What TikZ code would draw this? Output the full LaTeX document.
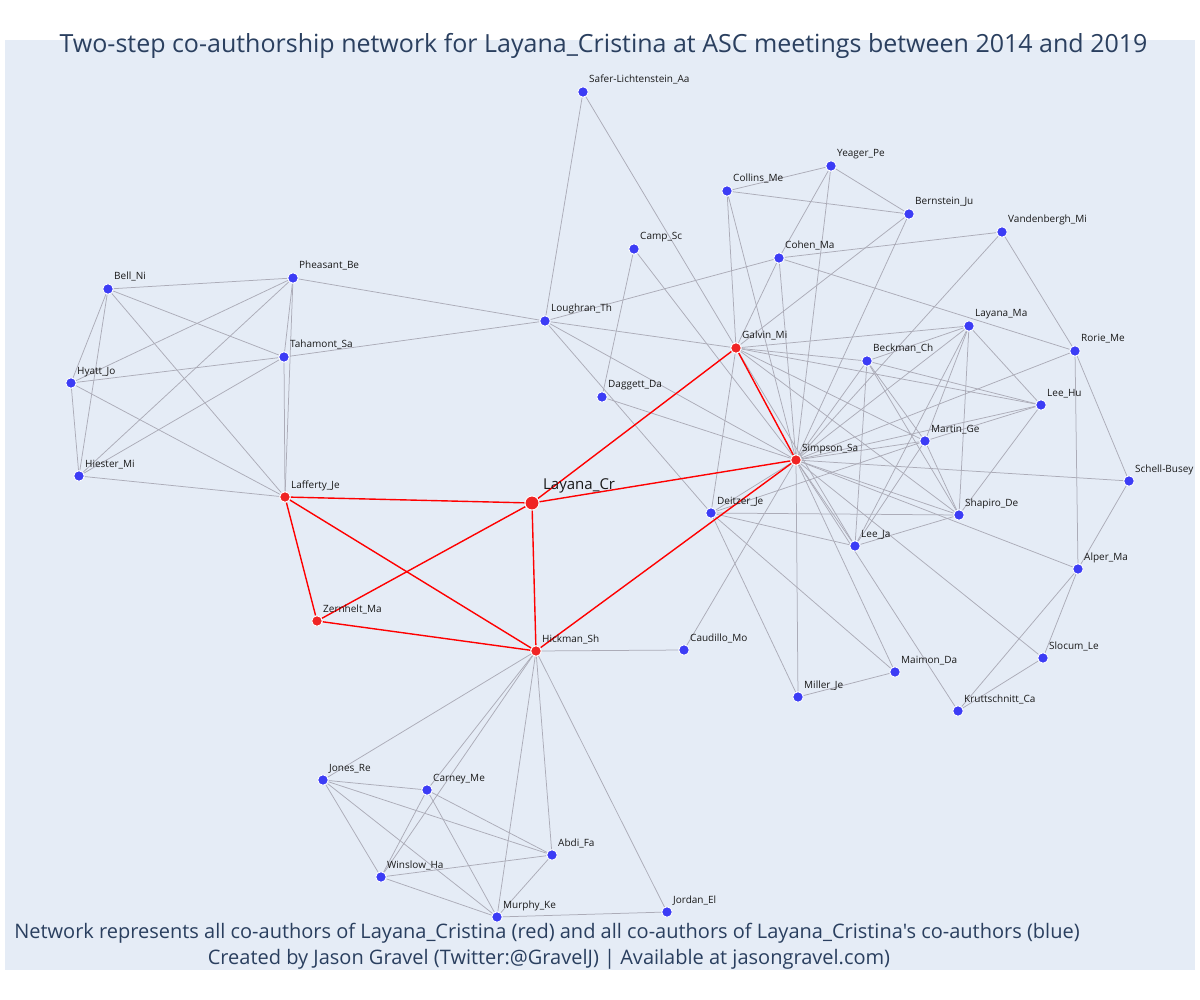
\documentclass[tikz,border=0pt]{standalone}
\usepackage{fontspec}
\setmainfont{Open Sans}[Ligatures=TeXOff]
\pgfdeclarelayer{bg}
\pgfdeclarelayer{edges}
\pgfsetlayers{bg,edges,main}
\definecolor{plotbg}{HTML}{E5ECF6}
\definecolor{titlec}{HTML}{2A3F5F}
\definecolor{bluen}{RGB}{60,60,245}
\definecolor{redn}{RGB}{240,36,36}
\definecolor{edgec}{RGB}{172,172,184}
\tikzset{
  bnode/.style={circle, fill=bluen, draw=white, line width=0.9pt, minimum size=10.5pt, inner sep=0pt},
  rnode/.style={circle, fill=redn, draw=white, line width=0.9pt, minimum size=10.5pt, inner sep=0pt},
  bignode/.style={circle, fill=redn, draw=white, line width=0.9pt, minimum size=14pt, inner sep=0pt},
  lbl/.style={anchor=base west, inner sep=0pt, font=\fontsize{10}{12}\selectfont, text=black!90},
  biglbl/.style={anchor=base west, inner sep=0pt, font=\fontsize{15}{18}\selectfont, text=black!90},
  gedge/.style={draw=edgec, line width=0.75pt},
  redge/.style={draw=red, line width=1.4pt},
  titletext/.style={font=\fontsize{25}{30}\selectfont, text=titlec, inner sep=0pt, anchor=base},
  foottext/.style={font=\fontsize{20}{24}\selectfont, text=titlec, inner sep=0pt, anchor=base}
}
\newcommand\bn[4]{\node[bnode] (#1) at (#2,#3) {}; \node[lbl] (#1-t) at (#2+6,#3-9) {#4};}
\newcommand\rn[4]{\node[rnode] (#1) at (#2,#3) {}; \node[lbl] (#1-t) at (#2+6,#3-9) {#4};}
\begin{document}
\begin{tikzpicture}[x=1pt,y=-1pt]
\useasboundingbox (0,0) rectangle (1200,1000);
\begin{pgfonlayer}{bg}
\fill[white] (0,0) rectangle (1200,1000);
\fill[plotbg] (5,40) rectangle (1195,970);
\end{pgfonlayer}

% nodes
\bn{safer}{583}{92}{Safer-Lichtenstein\_Aa}
\bn{yeager}{831}{166}{Yeager\_Pe}
\bn{collins}{727}{191}{Collins\_Me}
\bn{bernstein}{909}{214}{Bernstein\_Ju}
\bn{vandenbergh}{1002}{232}{Vandenbergh\_Mi}
\bn{camp}{634}{249}{Camp\_Sc}
\bn{cohen}{779}{258}{Cohen\_Ma}
\bn{pheasant}{293}{278}{Pheasant\_Be}
\bn{bell}{108}{289}{Bell\_Ni}
\bn{loughran}{545}{321}{Loughran\_Th}
\bn{layanama}{969}{326}{Layana\_Ma}
\rn{galvin}{736}{348}{Galvin\_Mi}
\bn{rorie}{1075}{351}{Rorie\_Me}
\bn{tahamont}{284}{357}{Tahamont\_Sa}
\bn{beckman}{867}{361}{Beckman\_Ch}
\bn{hyatt}{71}{383}{Hyatt\_Jo}
\bn{daggett}{602}{397}{Daggett\_Da}
\bn{leehu}{1041}{405}{Lee\_Hu}
\bn{martin}{925}{441}{Martin\_Ge}
\rn{simpson}{796}{460}{Simpson\_Sa}
\bn{hiester}{79}{476}{Hiester\_Mi}
\bn{schell}{1129}{481}{Schell-Busey}
\rn{lafferty}{285}{497}{Lafferty\_Je}
\node[bignode] (layanacr) at (532,503) {};
\node[biglbl] (layanacr-t) at (543,489) {Layana\_Cr};
\bn{deitzer}{711}{513}{Deitzer\_Je}
\bn{shapiro}{959}{515}{Shapiro\_De}
\bn{leeja}{855}{546}{Lee\_Ja}
\bn{alper}{1078}{569}{Alper\_Ma}
\rn{zernhelt}{317}{621}{Zernhelt\_Ma}
\rn{hickman}{536}{651}{Hickman\_Sh}
\bn{caudillo}{684}{650}{Caudillo\_Mo}
\bn{slocum}{1043}{658}{Slocum\_Le}
\bn{maimon}{895}{672}{Maimon\_Da}
\bn{miller}{798}{697}{Miller\_Je}
\bn{kruttschnitt}{958}{711}{Kruttschnitt\_Ca}
\bn{jones}{323}{780}{Jones\_Re}
\bn{carney}{427}{790}{Carney\_Me}
\bn{abdi}{552}{855}{Abdi\_Fa}
\bn{winslow}{381}{877}{Winslow\_Ha}
\bn{murphy}{497}{917}{Murphy\_Ke}
\bn{jordan}{667}{912}{Jordan\_El}

\begin{pgfonlayer}{edges}
\foreach \a/\b in {
  bell/hyatt, bell/hiester, bell/pheasant, bell/tahamont, bell/lafferty,
  hyatt/hiester, hyatt/pheasant, hyatt/tahamont, hyatt/lafferty,
  hiester/pheasant, hiester/tahamont, hiester/lafferty,
  pheasant/tahamont, pheasant/lafferty, tahamont/lafferty,
  pheasant/loughran, tahamont/loughran,
  loughran/safer, loughran/cohen, loughran/galvin, loughran/deitzer, loughran/simpson,
  safer/galvin,
  camp/daggett, camp/simpson, daggett/simpson,
  collins/yeager, collins/bernstein, collins/galvin, collins/simpson,
  yeager/bernstein, yeager/cohen, yeager/simpson,
  bernstein/galvin, bernstein/simpson,
  cohen/vandenbergh, cohen/galvin, cohen/simpson, cohen/rorie,
  vandenbergh/simpson, vandenbergh/rorie,
  rorie/simpson, rorie/alper, rorie/schell,
  schell/alper, schell/simpson,
  alper/slocum, alper/kruttschnitt, alper/simpson,
  slocum/kruttschnitt, slocum/simpson, kruttschnitt/simpson,
  caudillo/hickman, caudillo/simpson,
  miller/deitzer, miller/simpson, miller/maimon,
  maimon/deitzer, maimon/simpson,
  deitzer/galvin, deitzer/simpson, deitzer/shapiro, deitzer/leeja, deitzer/martin,
  galvin/layanama, galvin/beckman, galvin/leehu, galvin/martin, galvin/shapiro, galvin/leeja,
  simpson/layanama, simpson/beckman, simpson/leehu, simpson/martin, simpson/shapiro, simpson/leeja,
  layanama/beckman, layanama/leehu, layanama/martin, layanama/shapiro, layanama/leeja,
  beckman/leehu, beckman/martin, beckman/shapiro, beckman/leeja,
  leehu/martin, leehu/shapiro,
  martin/shapiro, martin/leeja, shapiro/leeja,
  hickman/jones, hickman/carney, hickman/abdi, hickman/winslow, hickman/murphy,
  jones/carney, jones/abdi, jones/winslow, jones/murphy,
  carney/abdi, carney/winslow, carney/murphy,
  abdi/winslow, abdi/murphy, winslow/murphy,
  hickman/jordan, murphy/jordan}
  \draw[gedge] (\a) -- (\b);
\foreach \a/\b in {
  layanacr/lafferty, layanacr/galvin, layanacr/simpson, layanacr/hickman, layanacr/zernhelt,
  lafferty/zernhelt, lafferty/hickman, zernhelt/hickman, galvin/simpson, simpson/hickman}
  \draw[redge] (\a) -- (\b);
\end{pgfonlayer}

% texts
\node[titletext] (title) at (603.5,53) {Two-step co-authorship network for Layana\_Cristina at ASC meetings between 2014 and 2019};
\node[foottext] (foot1) at (547,938) {Network represents all co-authors of Layana\_Cristina (red) and all co-authors of Layana\_Cristina's co-authors (blue)};
\node[foottext] (foot2) at (549,964) {Created by Jason Gravel (Twitter:@GravelJ) | Available at jasongravel.com)};
\end{tikzpicture}
\end{document}
